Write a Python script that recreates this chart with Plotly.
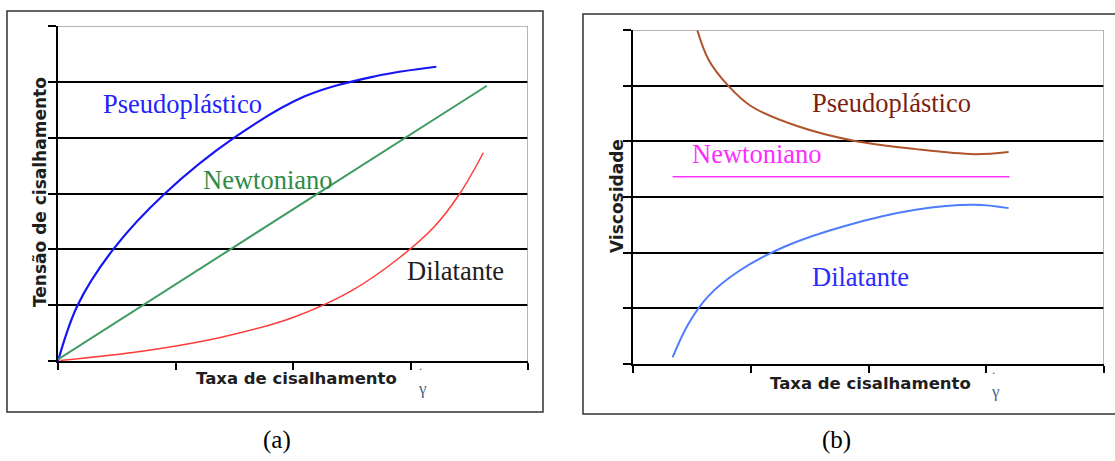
import plotly.graph_objects as go

W, H = 1115, 461

# ---------------- Panel (a): shear stress vs shear rate ----------------
pseudo_a_x = [0, 0.167, 0.47, 0.91, 1.5, 2.1, 2.7, 3.22]
pseudo_a_y = [0, 1.0, 2.0, 3.0, 4.0, 4.74, 5.1, 5.27]

newton_a_x = [0, 3.65]
newton_a_y = [0.03, 4.93]

dilat_a_x = [0.02, 0.73, 1.4, 2.0, 2.5, 2.9, 3.2, 3.42, 3.62]
dilat_a_y = [0.01, 0.18, 0.43, 0.78, 1.26, 1.84, 2.40, 3.0, 3.73]

# ---------------- Panel (b): viscosity vs shear rate ----------------
pseudo_b_x = [0.537, 0.643, 0.808, 1.004, 1.4, 1.875, 2.4, 2.9, 3.19]
pseudo_b_y = [6.06, 5.46, 5.0, 4.63, 4.27, 4.01, 3.86, 3.77, 3.81]

newton_b_x = [0.336, 3.198]
newton_b_y = [3.365, 3.365]

dilat_b_x = [0.336, 0.47, 0.64, 0.9, 1.3, 1.8, 2.4, 2.9, 3.19]
dilat_b_y = [0.12, 0.72, 1.22, 1.67, 2.12, 2.48, 2.77, 2.86, 2.80]

x_ticks = [0, 1, 2, 3, 4]
y_ticks = [0, 1, 2, 3, 4, 5, 6]


def PX(v):
    return v / W


def PY(v):
    return 1 - v / H


fig = go.Figure()


def add_line(x, y, color, width, xa, ya, shape="spline"):
    fig.add_trace(go.Scatter(
        x=x, y=y, mode="lines",
        line=dict(color=color, width=width, shape=shape, smoothing=1.0),
        xaxis=xa, yaxis=ya, hoverinfo="skip", showlegend=False))


add_line(pseudo_a_x, pseudo_a_y, "#1515f5", 2.2, "x", "y")
add_line(newton_a_x, newton_a_y, "#3f9b63", 2.0, "x", "y", shape="linear")
add_line(dilat_a_x, dilat_a_y, "#ff3b3b", 1.5, "x", "y")

add_line(pseudo_b_x, pseudo_b_y, "#b0532b", 2.0, "x2", "y2")
add_line(newton_b_x, newton_b_y, "#ff33ff", 1.5, "x2", "y2", shape="linear")
add_line(dilat_b_x, dilat_b_y, "#4f7cff", 2.0, "x2", "y2")

xcommon = dict(range=[0, 4], showline=True, linecolor="black", linewidth=1.5,
               ticks="outside", ticklen=7, tickwidth=1.5, tickcolor="black",
               tickvals=x_ticks, showticklabels=False, showgrid=False,
               zeroline=False, fixedrange=True)
ycommon = dict(range=[0, 6], showline=True, linecolor="black", linewidth=1.5,
               ticks="outside", ticklen=8, tickwidth=1.5, tickcolor="black",
               tickvals=y_ticks, showticklabels=False, showgrid=True,
               gridcolor="black", gridwidth=1.5, zeroline=False, fixedrange=True)

fig.update_layout(
    width=W, height=H, autosize=False,
    margin=dict(l=0, r=0, t=0, b=0, pad=0),
    paper_bgcolor="white", plot_bgcolor="white",
    showlegend=False,
    xaxis=dict(domain=[PX(58), PX(528)], anchor="y", **xcommon),
    yaxis=dict(domain=[PY(361), PY(26)], anchor="x", **ycommon),
    xaxis2=dict(domain=[PX(633), PX(1104)], anchor="y2", **xcommon),
    yaxis2=dict(domain=[PY(364), PY(30)], anchor="x2", **ycommon),
)

shapes = []
# outer frames
shapes.append(dict(type="rect", xref="paper", yref="paper",
                   x0=PX(7), x1=PX(543), y0=PY(412), y1=PY(11),
                   line=dict(color="#333333", width=1.5), layer="below"))
shapes.append(dict(type="rect", xref="paper", yref="paper",
                   x0=PX(583), x1=PX(1125), y0=PY(414), y1=PY(14),
                   line=dict(color="#333333", width=1.5), layer="below"))
# grey top/right plot borders
for xa, ya in (("x", "y"), ("x2", "y2")):
    shapes.append(dict(type="line", xref=xa, yref=ya, x0=0, x1=4, y0=6, y1=6,
                       line=dict(color="#9c9c9c", width=1.5)))
    shapes.append(dict(type="line", xref=xa, yref=ya, x0=4, x1=4, y0=0, y1=6,
                       line=dict(color="#9c9c9c", width=1.5)))
fig.update_layout(shapes=shapes)

serif = "Liberation Serif, Times New Roman, serif"
sans = "DejaVu Sans"
dark = "#1e1e1e"
gcol = "#4f6285"

ann = []


def label(text, x, y, size, color, family, angle=0, bold=False):
    t = f"<b>{text}</b>" if bold else text
    ann.append(dict(text=t, x=PX(x), y=PY(y), xref="paper", yref="paper",
                    xanchor="center", yanchor="middle", showarrow=False,
                    textangle=angle,
                    font=dict(family=family, size=size, color=color)))


# panel (a) labels
label("Pseudoplástico", 182, 104, 26.5, "#2222ff", serif)
label("Newtoniano", 268, 180, 26.5, "#2e8b45", serif)
label("Dilatante", 455, 271, 26.5, dark, serif)
label("Tensão de cisalhamento", 40, 192, 17, dark, sans, angle=-90, bold=True)
label("Taxa de cisalhamento", 296, 378, 16.5, dark, sans, bold=True)
label("γ", 422, 388, 17, gcol, serif)
label(".", 420, 365, 13, gcol, serif)
label("(a)", 277, 440, 25, "black", serif)

# panel (b) labels
label("Pseudoplástico", 891, 103, 26.5, "#7d1f0f", serif)
label("Newtoniano", 757, 154, 26.5, "#ff2bff", serif)
label("Dilatante", 860, 277, 26.5, "#2b2bff", serif)
label("Viscosidade", 617, 196, 17, dark, sans, angle=-90, bold=True)
label("Taxa de cisalhamento", 870, 383, 16.5, dark, sans, bold=True)
label("γ", 995, 391, 17, gcol, serif)
label(".", 993, 369, 13, gcol, serif)
label("(b)", 836, 440, 25, "black", serif)

fig.update_layout(annotations=ann)

fig.write_html("out.html")
